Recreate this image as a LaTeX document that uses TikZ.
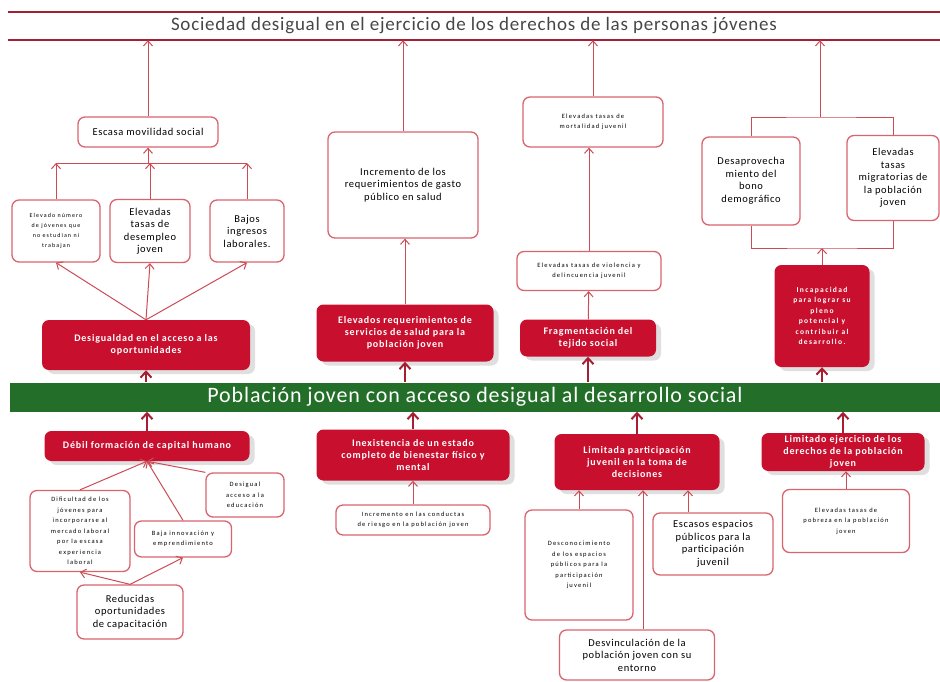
\documentclass[tikz,border=0pt]{standalone}
\usepackage{fontspec}
\setmainfont{Carlito}
\newfontfamily\normalcaja[LetterSpace=6]{Carlito}
\newfontfamily\chicacaja[LetterSpace=18]{Carlito}
\newfontfamily\rojacaja[LetterSpace=8]{Carlito}
\newfontfamily\titulocaja[LetterSpace=4]{Carlito}
\usetikzlibrary{arrows.meta,shadows}
\definecolor{rojo}{RGB}{200,16,46}
\definecolor{rojolinea}{RGB}{205,75,85}
\definecolor{rojoborde}{RGB}{218,100,110}
\definecolor{rojooscuro}{RGB}{165,30,50}
\definecolor{verde}{RGB}{35,110,40}
\definecolor{gristexto}{RGB}{70,70,70}

\begin{document}
\begin{tikzpicture}[x=1pt,y=-1pt,>={Straight Barb[length=5pt,width=9pt]},
  caja/.style={draw=rojoborde, line width=1.3pt, rounded corners=7pt, fill=white, align=center, inner sep=2pt, font=\normalcaja\fontsize{10.5}{12.5}\selectfont},
  chica/.style={font=\chicacaja\fontsize{6.5}{10.5}\selectfont},
  mini/.style={font=\chicacaja\fontsize{6}{10}\selectfont},
  cajaroja/.style={fill=rojo, rounded corners=7pt, align=center, text=white, inner sep=2pt, font=\rojacaja\bfseries\fontsize{10}{12}\selectfont,
    drop shadow={shadow xshift=5pt, shadow yshift=-4pt, opacity=0.25}},
  flecha/.style={->, draw=rojolinea, line width=1pt},
  linea/.style={draw=rojolinea, line width=1pt},
  flechagruesa/.style={->, draw=rojooscuro, line width=2pt, >={Straight Barb[length=6pt,width=11pt]}}]
\useasboundingbox (0,0) rectangle (940,681);

% titulo y eje central
\node (titulo) at (474,26) [minimum width=932, minimum height=28, inner sep=0, text=gristexto, font=\titulocaja\fontsize{19}{21}\selectfont] {Sociedad desigual en el ejercicio de los derechos de las personas jóvenes};
\draw[rojooscuro, line width=2pt] (titulo.north west) -- (titulo.north east);
\draw[rojooscuro, line width=2pt] (titulo.south west) -- (titulo.south east);
\node (poblacion) at (475,397) [fill=verde, minimum width=930, minimum height=29, inner sep=0, text=white, font=\titulocaja\fontsize{22}{24}\selectfont] {Población joven con acceso desigual al desarrollo social};

% primera columna
\node (escasa) at (148,132) [caja, minimum width=140, minimum height=30] {Escasa movilidad social};
\node (ninis) at (56,231) [caja, mini, minimum width=88, minimum height=62] {Elevado número\\de jóvenes que\\no estudian ni\\trabajan};
\node (desempleo) at (150,231) [caja, minimum width=80, minimum height=63] {Elevadas\\tasas de\\desempleo\\joven};
\node (ingresos) at (247,231) [caja, minimum width=74, minimum height=62] {Bajos\\ingresos\\laborales.};
\node (desigualdad) at (146,345) [cajaroja, minimum width=208, minimum height=50] {Desigualdad en el acceso a las\\oportunidades};
\node (debil) at (147,446) [cajaroja, minimum width=205, minimum height=30] {Débil formación de capital humano};
\node (dificultad) at (80,531) [caja, chica, minimum width=100, minimum height=81] {Dificultad de los\\jóvenes para\\incorporarse al\\mercado laboral\\por la escasa\\experiencia\\laboral};
\node (innovacion) at (183,539) [caja, chica, minimum width=97, minimum height=36] {Baja innovación y\\emprendimiento};
\node (educacion) at (245,495) [caja, chica, minimum width=78, minimum height=44] {Desigual\\acceso a la\\educación};
\node (capacitacion) at (130,612) [caja, minimum width=106, minimum height=54] {Reducidas\\oportunidades\\de capacitación};

% segunda columna
\node (gasto) at (403,185) [caja, minimum width=150, minimum height=106] {Incremento de los\\requerimientos de gasto\\público en salud};
\node (servsalud) at (405,333) [cajaroja, minimum width=177, minimum height=57] {Elevados requerimientos de\\servicios de salud para la\\población joven};
\node (bienestar) at (413,455) [cajaroja, minimum width=193, minimum height=51] {Inexistencia de un estado\\completo de bienestar físico y\\mental};
\node (riesgo) at (413,520) [caja, chica, minimum width=154, minimum height=30] {Incremento en las conductas\\de riesgo en la población joven};

% tercera columna
\node (mortalidad) at (593,122) [caja, chica, minimum width=140, minimum height=50] {Elevadas tasas de\\mortalidad juvenil};
\node (violencia) at (589,271) [caja, chica, minimum width=144, minimum height=39] {Elevadas tasas de violencia y\\delincuencia juvenil};
\node (fragmentacion) at (588,338) [cajaroja, minimum width=136, minimum height=37] {Fragmentación del\\tejido social};
\node (participacion) at (637,462) [cajaroja, minimum width=165, minimum height=56] {Limitada participación\\juvenil en la toma de\\decisiones};
\node (desconocimiento) at (579,565) [caja, chica, minimum width=108, minimum height=110] {Desconocimiento\\de los espacios\\públicos para la\\participación\\juvenil};
\node (escasos) at (713,544) [caja, minimum width=120, minimum height=62] {Escasos espacios\\públicos para la\\participación\\juvenil};
\node (desvinculacion) at (637,655) [caja, minimum width=155, minimum height=50] {Desvinculación de la\\población joven con su\\entorno};

% cuarta columna
\node (desaprov) at (751,181) [caja, minimum width=98, minimum height=88] {Desaprovecha\\miento del\\bono\\demográfico};
\node (migratorias) at (893,178) [caja, minimum width=92, minimum height=85] {Elevadas\\tasas\\migratorias de\\la población\\joven};
\node (incapacidad) at (822,316) [cajaroja, font=\chicacaja\bfseries\fontsize{7.5}{10.5}\selectfont, minimum width=95, minimum height=102] {Incapacidad\\para lograr su\\pleno\\potencial y\\contribuir al\\desarrollo.};
\node (limitado) at (843,452) [cajaroja, minimum width=163, minimum height=38] {Limitado ejercicio de los\\derechos de la población\\joven};
\node (pobreza) at (846,521) [caja, chica, minimum width=127, minimum height=63] {Elevadas tasas de\\pobreza en la población\\joven};

\coordinate (union) at (148,163);
\coordinate (llave) at (820,117);
\coordinate (base) at (822,248);

% conectores primera columna
\draw[flecha] (escasa) -- (escasa |- titulo.south);
\draw[linea] (ninis.north |- union) -- (ingresos.north |- union);
\draw[flecha] (ninis) -- (ninis.north |- union);
\draw[flecha] (desempleo) -- (desempleo.north |- union);
\draw[flecha] (ingresos) -- (ingresos.north |- union);
\draw[flecha] (union) -- (escasa);
\draw[flecha] (desigualdad.north) -- (ninis.south);
\draw[flecha] (desigualdad.north) -- (desempleo.south);
\draw[flecha] (desigualdad.north) -- (ingresos.south);
\draw[flechagruesa] (desigualdad |- poblacion.north) -- (desigualdad);
\draw[flechagruesa] (debil) -- (debil |- poblacion.south);
\draw[flecha] (dificultad.north) -- (debil.south);
\draw[flecha] (innovacion.north) -- (debil.south);
\draw[flecha] (educacion.north west) -- (debil.south);
\draw[flecha] (capacitacion.north) -- (dificultad.south);
\draw[flecha] (capacitacion.north) -- (innovacion.south);

% conectores segunda columna
\draw[flecha] (gasto) -- (gasto |- titulo.south);
\draw[flecha] (servsalud) -- (servsalud |- gasto.south);
\draw[flechagruesa] (servsalud |- poblacion.north) -- (servsalud);
\draw[flechagruesa] (bienestar) -- (bienestar |- poblacion.south);
\draw[flecha] (riesgo) -- (bienestar);

% conectores tercera columna
\draw[flecha] (mortalidad) -- (mortalidad |- titulo.south);
\draw[flecha] (violencia) -- (violencia |- mortalidad.south);
\draw[flecha] (fragmentacion) -- (violencia);
\draw[flechagruesa] (fragmentacion |- poblacion.north) -- (fragmentacion);
\draw[flechagruesa] (participacion) -- (participacion |- poblacion.south);
\draw[flecha] (desconocimiento) -- (desconocimiento |- participacion.south);
\draw[flecha] ([xshift=-25pt]escasos.north) -- ([xshift=-25pt]escasos.north |- participacion.south);
\draw[flecha] ([xshift=6pt]desvinculacion.north) -- ([xshift=6pt]desvinculacion.north |- participacion.south);

% conectores cuarta columna
\draw[linea] (desaprov.north) |- (llave) -| (migratorias.north);
\draw[flecha] (llave) -- (llave |- titulo.south);
\draw[linea] (desaprov.south) |- (base) -| (migratorias.south);
\draw[flecha] (incapacidad) -- (base);
\draw[flechagruesa] (incapacidad |- poblacion.north) -- (incapacidad);
\draw[flechagruesa] (limitado) -- (limitado |- poblacion.south);
\draw[flecha] (pobreza) -- (pobreza |- limitado.south);
\end{tikzpicture}
\end{document}
